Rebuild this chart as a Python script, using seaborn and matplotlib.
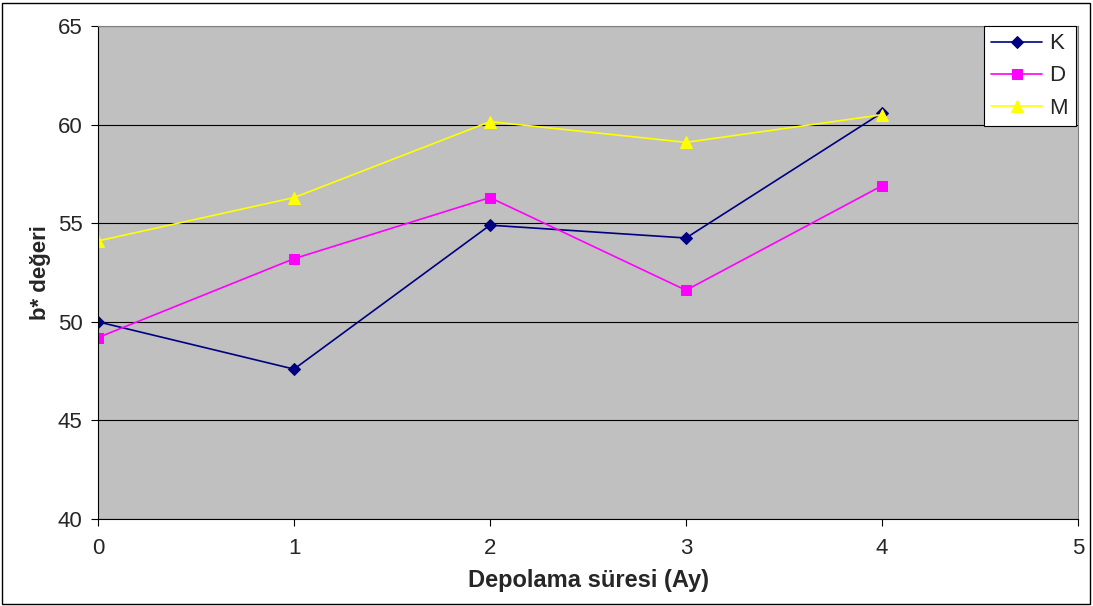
import matplotlib
matplotlib.use("Agg")
import matplotlib.pyplot as plt
import seaborn as sns
import pandas as pd
from matplotlib.patches import Rectangle

months = [0, 1, 2, 3, 4]
K = [50.0, 47.6, 54.9, 54.25, 60.6]
D = [49.2, 53.2, 56.3, 51.6, 56.9]
M = [54.1, 56.3, 60.15, 59.1, 60.5]
series_names = ["K", "D", "M"]
colors = {"K": "#000080", "D": "#FF00FF", "M": "#FFFF00"}
markers = {"K": "D", "D": "s", "M": "^"}
msizes = {"K": 6, "D": 7, "M": 8}

df = pd.DataFrame({"Ay": months * 3,
                   "val": K + D + M,
                   "seri": ["K"] * 5 + ["D"] * 5 + ["M"] * 5})

sns.set_style("white")
plt.rcParams['font.family'] = ['Liberation Sans', 'DejaVu Sans']

fig = plt.figure(figsize=(10.93, 6.06), dpi=100)
ax = fig.add_axes([98/1093, 1-519/606, (1078-98)/1093, (519-26)/606])
ax.set_facecolor("#C0C0C0")

for s in series_names:
    sub = df[df.seri == s]
    sns.lineplot(data=sub, x="Ay", y="val", ax=ax, color=colors[s], marker=markers[s],
                 markersize=msizes[s], markeredgecolor=colors[s], linewidth=1.2, label=s)

ax.set_xlim(0, 5)
ax.set_ylim(40, 65)
ax.set_xticks([0, 1, 2, 3, 4, 5])
ax.set_yticks([40, 45, 50, 55, 60, 65])
ax.grid(axis="y", color="black", linewidth=0.8)
ax.set_axisbelow(True)
ax.tick_params(axis="both", direction="out", length=5, width=0.8, color="black", labelsize=16,
               bottom=True, left=True)
ax.tick_params(axis="x", pad=9)
ax.tick_params(axis="y", pad=6)
for sp in ax.spines.values():
    sp.set_color("black")
    sp.set_linewidth(0.8)
ax.spines["top"].set_color("#808080")
ax.spines["right"].set_color("#808080")

ax.set_xlabel("Depolama süresi (Ay)", fontsize=17, fontweight="bold", labelpad=7)
ax.set_ylabel("b* değeri", fontsize=16, fontweight="bold", labelpad=5)

leg = ax.legend(loc="upper right", bbox_to_anchor=(1.002, 1.01), frameon=True, fancybox=False,
                fontsize=16, handlelength=2.3, borderpad=0.35, labelspacing=0.5, handletextpad=0.3,
                borderaxespad=0.2)
leg.get_frame().set_edgecolor("black")
leg.get_frame().set_facecolor("white")
leg.get_frame().set_alpha(1)
leg.get_frame().set_linewidth(0.8)

fig.patches.append(Rectangle((2/1093, 2/606), 1088/1093, 601/606, transform=fig.transFigure,
                             fill=False, edgecolor="black", linewidth=1))

fig.savefig("out.png", dpi=100)
